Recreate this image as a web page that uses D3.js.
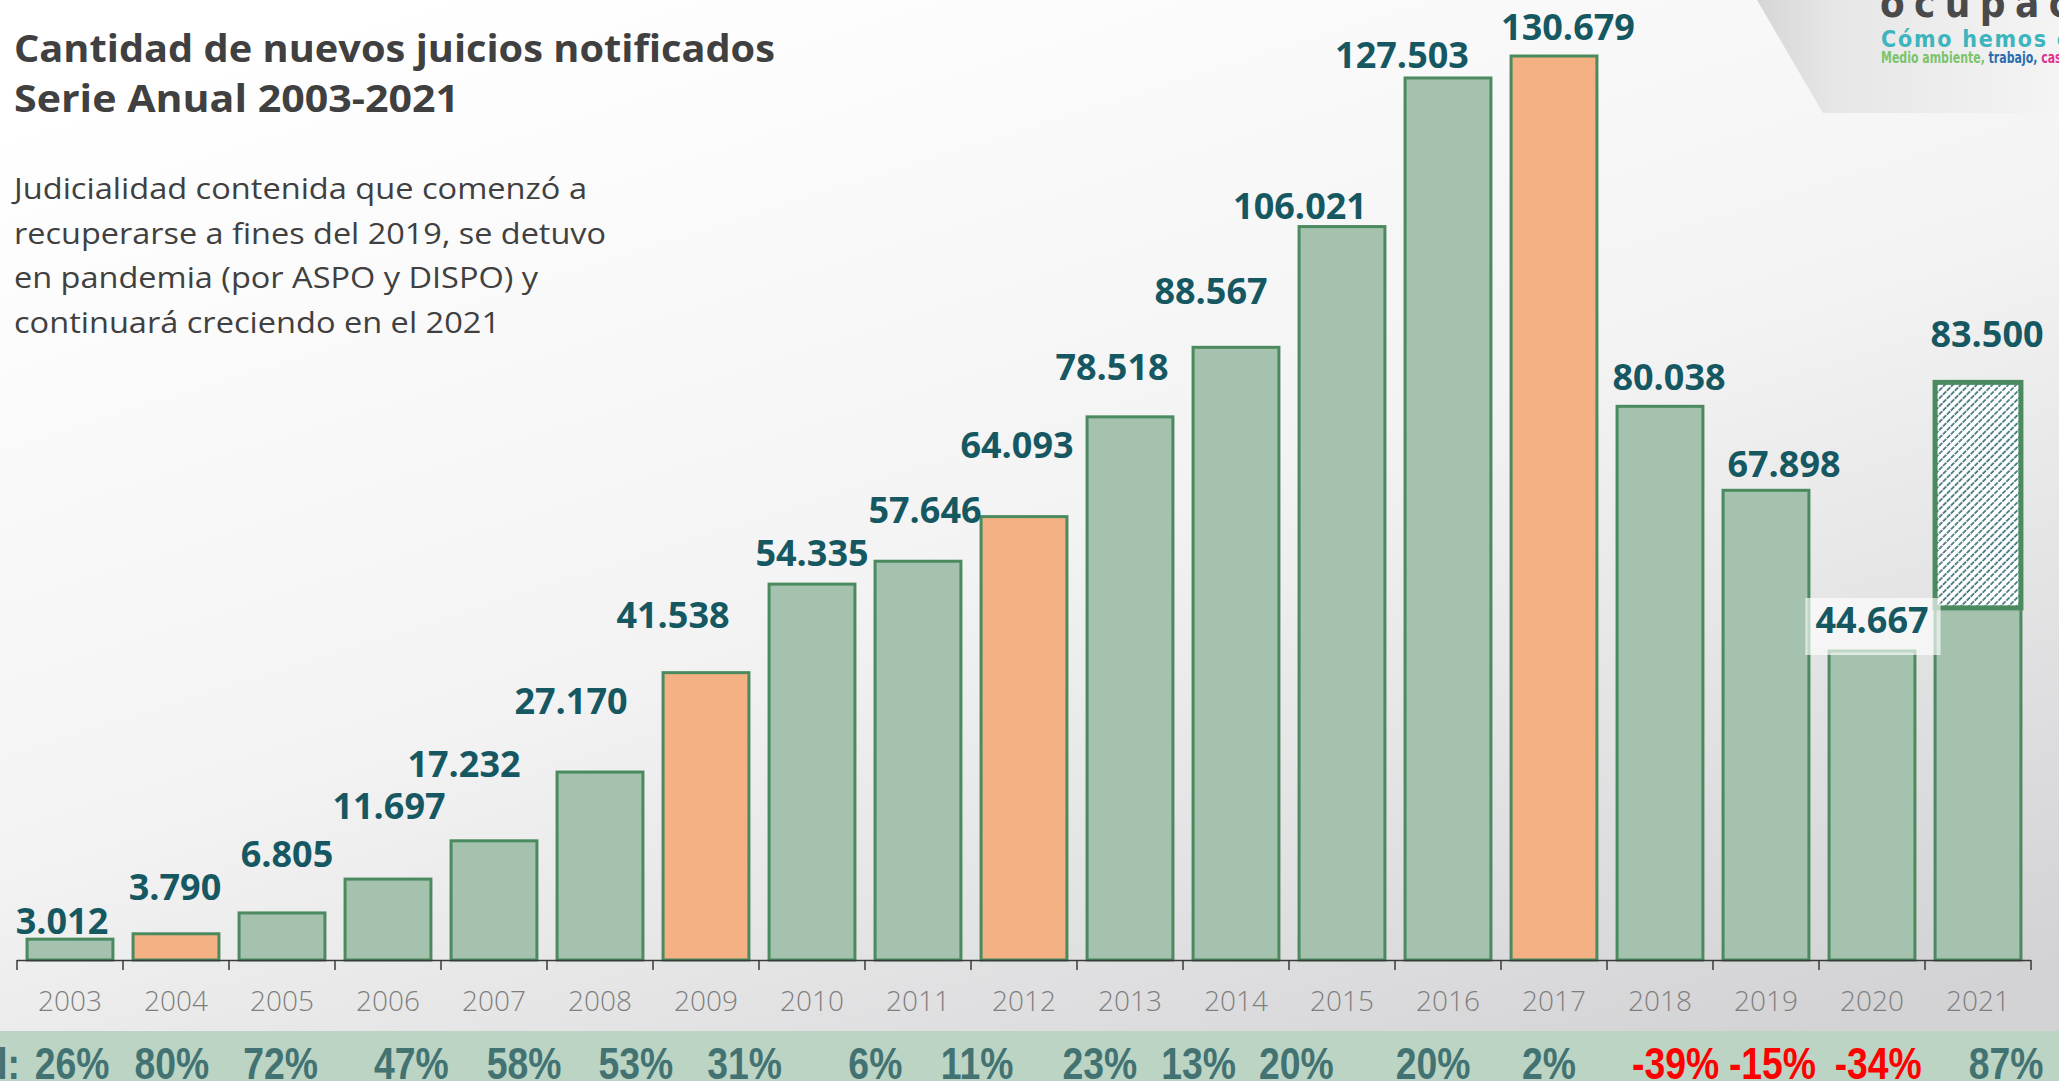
<!DOCTYPE html>
<html lang="es">
<head>
<meta charset="utf-8">
<title>Cantidad de nuevos juicios notificados</title>
<script src="https://cdn.jsdelivr.net/npm/d3@7"></script>
<style>
  body { margin: 0; overflow: hidden; background: #fff; }
  .titulo { font-family: "Open Sans", "Noto Sans", sans-serif; font-weight: 700; fill: #404040; }
  .bajada { font-family: "Open Sans", "Noto Sans", sans-serif; font-weight: 400; fill: #404040; }
  .valor { font-family: "Open Sans", "Noto Sans", sans-serif; font-weight: 700; font-size: 36px; fill: #165862; text-anchor: middle; }
  .anio text { font-family: "Open Sans", "Noto Sans", sans-serif; font-weight: 300; font-size: 28px; fill: #7f7f7f; }
  .pct { font-family: "Liberation Sans", Arial, sans-serif; font-weight: 700; font-size: 45px; text-anchor: middle; }
  .logo { font-family: "DejaVu Sans Condensed", "DejaVu Sans", sans-serif; }
</style>
</head>
<body>
<script>
// datos
var years = ["2003","2004","2005","2006","2007","2008","2009","2010","2011","2012",
             "2013","2014","2015","2016","2017","2018","2019","2020","2021"];
var juicios = [3012, 3790, 6805, 11697, 17232, 27170, 41538, 54335, 57646, 64093,
               78518, 88567, 106021, 127503, 130679, 80038, 67898, 44667, 83500];
var destacados = ["2004", "2009", "2012", "2017"];   // barras naranjas
var parcial2021 = 50900;                             // parte llena de 2021 (resto proyectado)
var variacion = [26, 80, 72, 47, 58, 53, 31, 6, 11, 23, 13, 20, 20, 2, -39, -15, -34, 87];

var titulo = ["Cantidad de nuevos juicios notificados", "Serie Anual 2003-2021"];
var bajada = ["Judicialidad contenida que comenzó a",
              "recuperarse a fines del 2019, se detuvo",
              "en pandemia (por ASPO y DISPO) y",
              "continuará creciendo en el 2021"];

// ajustes de posicion de las etiquetas (px)
var labelDx  = [-8, -1, 5, 1, -30, -29, -33, 0, 7, -7, -18, -25, -42, -46, 14, 9, 18, 0, 9];
var labelGap = [5, 34, 46, 60, 64, 58, 45, 18, 38, 59, 37, 43, 8, 10, 16, 16, 13, 18, 35];
var pctDx    = [0, -14, -19, -2, -3, -5, -10, 7, -5, 4, -11, -27, -4, -2, 11, -6, -14, 0];

var W = 2059, H = 1081, baseY = 960;
var colVerde = "#a4c2ae", colNaranja = "#f4b183", colBorde = "#4b8a5f";

var svg = d3.select("body").append("svg")
    .attr("width", W)
    .attr("height", H);

var defs = svg.append("defs");

var fondo = defs.append("linearGradient")
    .attr("id", "fondo")
    .attr("x1", 0.2).attr("y1", 0).attr("x2", 0.8).attr("y2", 1);
fondo.append("stop").attr("offset", 0).attr("stop-color", "#ffffff");
fondo.append("stop").attr("offset", 0.5).attr("stop-color", "#f3f3f3");
fondo.append("stop").attr("offset", 1).attr("stop-color", "#d3d3d6");

var logoGrad = defs.append("linearGradient")
    .attr("id", "logoGrad")
    .attr("x1", 0).attr("y1", 0).attr("x2", 1).attr("y2", 0);
logoGrad.append("stop").attr("offset", 0).attr("stop-color", "#d6d6d6");
logoGrad.append("stop").attr("offset", 0.25).attr("stop-color", "#e6e6e6");
logoGrad.append("stop").attr("offset", 1).attr("stop-color", "#f4f4f4");

var hatch = defs.append("pattern")
    .attr("id", "hatch")
    .attr("patternUnits", "userSpaceOnUse")
    .attr("width", 5.6).attr("height", 5.6)
    .attr("patternTransform", "rotate(45)");
hatch.append("rect").attr("width", 5.6).attr("height", 5.6).attr("fill", "#ffffff");
hatch.append("line")
    .attr("x1", 1).attr("y1", 0).attr("x2", 1).attr("y2", 5.6)
    .attr("stroke", "#145a64").attr("stroke-width", 1.4)
    .attr("stroke-dasharray", "2.8 1");

svg.append("rect").attr("width", W).attr("height", H).attr("fill", "url(#fondo)");

// logo arriba a la derecha
svg.append("polygon")
    .attr("points", "1757,0 2059,0 2059,113 1823,113")
    .attr("fill", "url(#logoGrad)");
svg.append("text")
    .attr("class", "logo")
    .attr("x", 1880).attr("y", 17)
    .style("font-size", "40px").style("font-weight", 700)
    .attr("fill", "#4a4a4a")
    .attr("textLength", 190).attr("lengthAdjust", "spacing")
    .text("ocupac");
svg.append("text")
    .attr("class", "logo")
    .attr("x", 1881).attr("y", 47)
    .style("font-size", "23px").style("font-weight", 700)
    .attr("fill", "#3db5be")
    .attr("textLength", 188).attr("lengthAdjust", "spacing")
    .text("Cómo hemos c");
var lema = svg.append("text")
    .attr("class", "logo")
    .attr("x", 1881).attr("y", 63)
    .style("font-size", "16px").style("font-weight", 700)
    .attr("textLength", 188).attr("lengthAdjust", "spacingAndGlyphs");
lema.append("tspan").attr("fill", "#7bc46c").text("Medio ambiente, ");
lema.append("tspan").attr("fill", "#2b6cb0").text("trabajo, ");
lema.append("tspan").attr("fill", "#df338e").text("casa");

// titulo y bajada
function ajustar(sel, ancho) {
    var w = sel.node().getComputedTextLength();
    if (Math.abs(w - ancho) > 3) sel.attr("textLength", ancho).attr("lengthAdjust", "spacingAndGlyphs");
}
var anchoTitulo = [761, 445];
titulo.forEach(function(t, i) {
    var s = svg.append("text").attr("class", "titulo")
        .attr("x", 14).attr("y", 62 + i * 50)
        .style("font-size", "37px")
        .text(t);
    ajustar(s, anchoTitulo[i]);
});
var anchoBajada = [573, 592, 524, 486];
bajada.forEach(function(t, i) {
    var s = svg.append("text").attr("class", "bajada")
        .attr("x", 14).attr("y", 199 + i * 44.5)
        .style("font-size", "29px")
        .text(t);
    ajustar(s, anchoBajada[i]);
});

// escalas
var x = d3.scaleBand()
    .domain(years)
    .range([17, 2031])
    .paddingInner(0.19)
    .paddingOuter(0.095);

var y = d3.scaleLinear()
    .domain([0, d3.max(juicios)])
    .range([baseY, 56]);

var fmt = d3.formatLocale({ decimal: ",", thousands: ".", grouping: [3], currency: ["$", ""] }).format(",d");
var ultimo = years[years.length - 1];

var g = svg.append("g");

// barras
g.selectAll("rect.bar")
    .data(years)
    .join("rect")
    .attr("class", "bar")
    .attr("x", function(d) { return x(d); })
    .attr("width", x.bandwidth())
    .attr("y", function(d, i) { return y(d == ultimo ? parcial2021 : juicios[i]); })
    .attr("height", function(d, i) { return baseY - y(d == ultimo ? parcial2021 : juicios[i]); })
    .attr("fill", function(d) { return destacados.indexOf(d) >= 0 ? colNaranja : colVerde; })
    .attr("stroke", colBorde)
    .attr("stroke-width", 3);

// 2021 proyectado
g.append("rect")
    .attr("x", x(ultimo))
    .attr("width", x.bandwidth())
    .attr("y", y(juicios[juicios.length - 1]))
    .attr("height", y(parcial2021) - y(juicios[juicios.length - 1]))
    .attr("fill", "url(#hatch)")
    .attr("stroke", colBorde)
    .attr("stroke-width", 5);

// eje x
var bordes = years.map(function(d) { return x(d) - (x.step() - x.bandwidth()) / 2; });
bordes.push(x.range()[1]);
g.append("line")
    .attr("x1", x.range()[0]).attr("x2", x.range()[1])
    .attr("y1", baseY + 0.5).attr("y2", baseY + 0.5)
    .attr("stroke", "#3a3a3a").attr("stroke-width", 1.5);
g.selectAll("line.tick")
    .data(bordes)
    .join("line")
    .attr("class", "tick")
    .attr("x1", function(d) { return d; }).attr("x2", function(d) { return d; })
    .attr("y1", baseY).attr("y2", baseY + 10)
    .attr("stroke", "#3a3a3a").attr("stroke-width", 1.5);

var ejeX = g.append("g")
    .attr("class", "anio")
    .attr("transform", "translate(0,1011)")
    .call(d3.axisBottom(x).tickSize(0));
ejeX.select(".domain").remove();
ejeX.selectAll("text").attr("y", 0).attr("dy", null);

// etiquetas de valores (caja blanca detras de 2020)
var etiquetas = g.selectAll("text.valor")
    .data(years)
    .join("text")
    .attr("class", "valor")
    .attr("x", function(d, i) { return x(d) + x.bandwidth() / 2 + labelDx[i]; })
    .attr("y", function(d, i) { return y(juicios[i]) - labelGap[i]; })
    .text(function(d, i) { return fmt(juicios[i]); });

etiquetas.filter(function(d) { return d == "2020"; }).each(function() {
    var b = this.getBBox();
    g.insert("rect", "text.valor")
        .attr("x", b.x - 10).attr("y", b.y + 3)
        .attr("width", b.width + 22).attr("height", b.height + 8)
        .attr("fill", "#ffffff").attr("fill-opacity", 0.65);
});

// franja de variaciones
svg.append("rect")
    .attr("x", 0).attr("y", 1031)
    .attr("width", W).attr("height", H - 1031)
    .attr("fill", "#bbd4c4");

var xp = d3.scalePoint()
    .domain(d3.range(variacion.length))
    .range([72, 2006]);

var angosto = 0.83;   // letra condensada
svg.append("text")
    .attr("class", "pct")
    .attr("transform", "translate(20,1079) scale(" + angosto + ",1)")
    .style("text-anchor", "end")
    .attr("fill", "#437272")
    .text("Var. anual:");

svg.selectAll("text.pctv")
    .data(variacion)
    .join("text")
    .attr("class", "pct pctv")
    .attr("transform", function(d, i) { return "translate(" + (xp(i) + pctDx[i]) + ",1079) scale(" + angosto + ",1)"; })
    .attr("fill", function(d) { return d < 0 ? "#ff0000" : "#437272"; })
    .text(function(d) { return d + "%"; });
</script>
</body>
</html>
